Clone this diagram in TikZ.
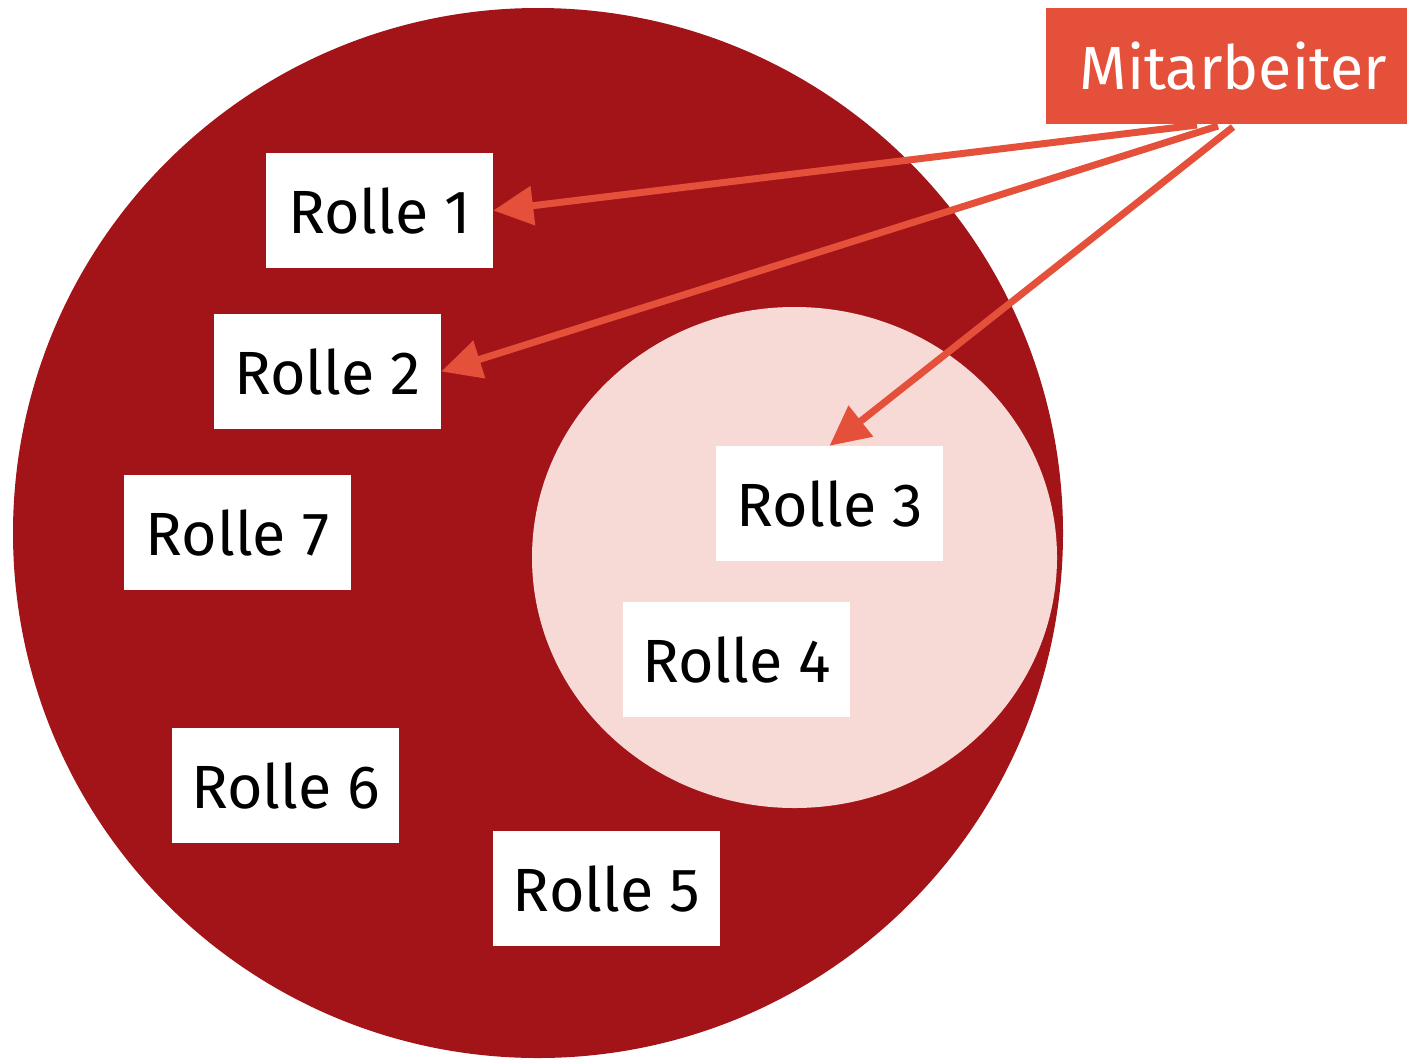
\documentclass[tikz,border=0pt]{standalone}
\usepackage{fontspec}
\setmainfont{Fira Sans}
\usetikzlibrary{arrows.meta}
\definecolor{darkred}{HTML}{A31419}
\definecolor{lightpink}{HTML}{F7DAD5}
\definecolor{accent}{HTML}{E5503A}
\begin{document}
\begin{tikzpicture}[x=1pt,y=-1pt,
  rolle/.style={fill=white,minimum width=227pt,minimum height=115pt,inner sep=0pt,font=\fontsize{61}{70}\selectfont,text=black},
  conn/.style={draw=accent,line width=7pt,-{Triangle[length=40pt,width=38pt]}}]
\useasboundingbox (0,0) rectangle (1407,1058);
\fill[darkred] (538,533) ellipse [x radius=525, y radius=525];
\fill[lightpink] (794.5,557.5) ellipse [x radius=262.5, y radius=250.5];
\node[fill=accent,minimum width=361pt,minimum height=116pt,inner sep=0pt,text=white,font=\fontsize{61}{70}\selectfont] (m) at (1226.5,66) {\hspace*{14pt}Mitarbeiter};
\node[rolle] (r1) at (379.5,210.5) {Rolle 1};
\node[rolle] (r2) at (327.5,371.5) {Rolle 2};
\node[rolle] (r7) at (237.5,532.5) {Rolle 7};
\node[rolle] (r3) at (829.5,503.5) {Rolle 3};
\node[rolle] (r4) at (736.5,659.5) {Rolle 4};
\node[rolle] (r6) at (285.5,785.5) {Rolle 6};
\node[rolle] (r5) at (606.5,888.5) {Rolle 5};
\coordinate (s1) at (1197,125);
\coordinate (s2) at (1218,126);
\coordinate (s3) at (1233,127);
\draw[conn] (s1) -- (r1.east);
\draw[conn] (s2) -- (r2.east);
\draw[conn] (s3) -- (r3.north);
\end{tikzpicture}
\end{document}
